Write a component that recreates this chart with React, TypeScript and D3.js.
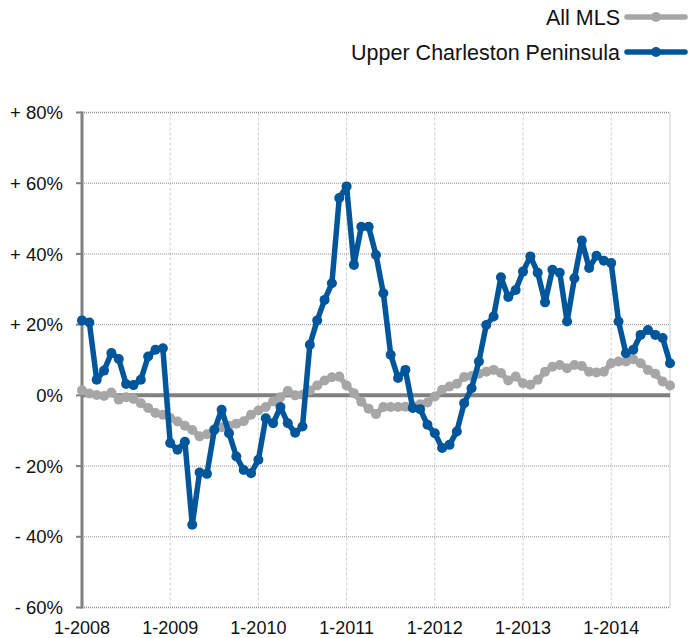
import React from "react";
import * as d3 from "d3";

// monthly % change, Jan 2008 .. Sep 2014
const allMLS = [
  1.4, 0.5, 0.1, -0.2, 0.8, -1.2, -0.5, -1.0, -2.2, -3.6,
  -5.0, -5.5, -6.4, -7.4, -8.6, -9.8, -11.6, -11.0, -9.6, -9.0,
  -8.6, -8.0, -7.3, -5.5, -4.3, -3.3, -1.7, -0.5, 1.2, 0.0,
  0.2, 1.4, 2.8, 4.2, 5.1, 5.3, 2.8, 0.6, -1.8, -3.8,
  -5.3, -3.3, -3.3, -3.3, -3.2, -3.0, -2.5, -2.0, -0.3, 1.6,
  2.5, 3.3, 5.2, 5.5, 6.1, 6.7, 7.2, 6.3, 4.2, 5.3,
  3.4, 3.0, 4.4, 6.7, 8.1, 8.6, 7.7, 8.6, 8.3, 6.7,
  6.5, 6.7, 9.1, 9.6, 9.6, 10.2, 9.1, 7.2, 6.1, 3.9,
  2.8,
];

const upperPeninsula = [
  21.2, 20.6, 4.4, 7.0, 12.0, 10.3, 3.2, 2.9, 4.4, 11.0,
  12.9, 13.3, -13.5, -15.4, -13.1, -36.6, -21.8, -22.2, -9.8, -4.1,
  -10.7, -17.3, -21.1, -22.0, -18.2, -6.5, -7.9, -3.3, -7.9, -10.6,
  -8.8, 14.3, 21.2, 27.0, 31.7, 55.8, 59.1, 36.9, 47.7, 47.7,
  39.7, 28.9, 11.5, 4.9, 7.2, -3.6, -3.9, -8.3, -10.7, -14.9,
  -14.0, -10.2, -2.2, 2.0, 9.6, 19.9, 22.3, 33.4, 27.8, 29.8,
  35.0, 39.3, 34.7, 26.3, 35.5, 34.7, 20.9, 33.1, 43.8, 36.0,
  39.5, 38.1, 37.4, 20.9, 11.9, 12.9, 17.1, 18.5, 17.1, 16.2,
  9.1,
];

const xTickLabels = ["1-2008", "1-2009", "1-2010", "1-2011", "1-2012", "1-2013", "1-2014"];
const yTicks = [80, 60, 40, 20, 0, -20, -40, -60];

const series = [
  { name: "All MLS", values: allMLS, color: "#a6a6a6" },
  { name: "Upper Charleston Peninsula", values: upperPeninsula, color: "#00569a" },
];

const width = 692;
const height = 638;
const margin = { top: 112.5, right: 22, bottom: 30.5, left: 82 };
const font = "'Liberation Sans', Arial, Helvetica, sans-serif";

const fmt = (v: number) => (v > 0 ? `+ ${v}%` : v < 0 ? `- ${Math.abs(v)}%` : "0%");

export default function App() {
  const x = d3
    .scaleLinear()
    .domain([0, allMLS.length - 1])
    .range([margin.left, width - margin.right]);
  const y = d3
    .scaleLinear()
    .domain([-60, 80])
    .range([height - margin.bottom, margin.top]);

  const line = d3
    .line<number>()
    .x((_, i) => x(i))
    .y((d) => y(d));

  const x0 = x.range()[0];
  const x1 = x.range()[1];

  return (
    <svg
      width={width}
      height={height}
      style={{ position: "absolute", left: 0, top: 0, background: "#fff" }}
      fontFamily={font}
    >
      {/* vertical grid */}
      {xTickLabels.map((_, k) => (
        <line
          key={"vg" + k}
          x1={x(k * 12)}
          x2={x(k * 12)}
          y1={y(80)}
          y2={y(-60)}
          stroke="#cfcfcf"
          strokeWidth={1}
          strokeDasharray="3,2"
        />
      ))}
      <line x1={x1} x2={x1} y1={y(80)} y2={y(-60)} stroke="#999" strokeDasharray="1,1" />

      {/* horizontal grid */}
      {yTicks
        .filter((t) => t !== 0)
        .map((t) => (
          <line
            key={"hg" + t}
            x1={x0}
            x2={x1}
            y1={y(t)}
            y2={y(t)}
            stroke="#8c8c8c"
            strokeWidth={t === 80 || t === -60 ? 1.5 : 1}
            strokeDasharray="1,1"
          />
        ))}

      {/* zero line */}
      <line x1={x0} x2={x1} y1={y(0)} y2={y(0)} stroke="#808080" strokeWidth={4} />

      {/* y axis */}
      <line x1={x0} x2={x0} y1={y(80) - 1} y2={y(-60) + 1} stroke="#808080" strokeWidth={3} />
      {yTicks.map((t) => (
        <g key={"yt" + t}>
          <line x1={x0 - 6} x2={x0} y1={y(t)} y2={y(t)} stroke="#808080" strokeWidth={2} />
          <text x={63} y={y(t)} dy="0.36em" textAnchor="end" fontSize={18.5} fill="#111">
            {fmt(t)}
          </text>
        </g>
      ))}

      {/* x labels */}
      {xTickLabels.map((lab, k) => (
        <text key={"xl" + k} x={x(k * 12)} y={633.5} textAnchor="middle" fontSize={18} fill="#111">
          {lab}
        </text>
      ))}

      {/* series */}
      {series.map((s) => (
        <g key={s.name}>
          <path
            d={line(s.values) || ""}
            fill="none"
            stroke={s.color}
            strokeWidth={5.5}
            strokeLinejoin="round"
            strokeLinecap="round"
          />
          {s.values.map((v, i) => (
            <circle key={i} cx={x(i)} cy={y(v)} r={5} fill={s.color} />
          ))}
        </g>
      ))}

      {/* legend */}
      {series.map((s, k) => {
        const ly = 17 + k * 35;
        return (
          <g key={"lg" + k}>
            <text x={620} y={ly} dy="0.36em" textAnchor="end" fontSize={21.5} fill="#111">
              {s.name}
            </text>
            <line
              x1={627}
              x2={685}
              y1={ly}
              y2={ly}
              stroke={s.color}
              strokeWidth={5.5}
              strokeLinecap="round"
            />
            <circle cx={656} cy={ly} r={5} fill={s.color} />
          </g>
        );
      })}
    </svg>
  );
}
